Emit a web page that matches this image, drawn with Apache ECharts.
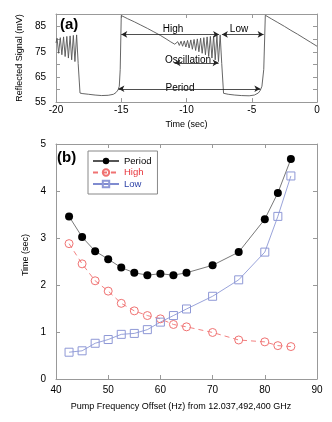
<!DOCTYPE html>
<html>
<head>
<meta charset="utf-8">
<script src="https://cdn.jsdelivr.net/npm/echarts@6/dist/echarts.min.js"></script>
<style>
  html, body { margin: 0; padding: 0; background: #fff; }
  #chartA { width: 332px; height: 134px; }
  #chartB { width: 332px; height: 288px; }
</style>
</head>
<body>
<div id="chartA"></div>
<div id="chartB"></div>
<script>
// (a) 反射信号波形：时间(s) 与 电压(mV)
var sigTime = [-20.00, -19.92, -19.80, -19.67, -19.55, -19.42, -19.30, -19.17, -19.05, -18.92, -18.80, -18.67, -18.55, -18.42, -18.30, -18.16,
    -18.00, -17.50, -17.00, -16.50, -16.00, -15.60, -15.40, -15.25, -15.15, -15.08, -15.00,
    -14.50, -14.00, -13.50, -13.00, -12.50, -12.00, -11.50, -11.20, -10.90,
    -10.67, -10.55, -10.42, -10.30, -10.17, -10.05, -9.92, -9.80, -9.67, -9.55, -9.42, -9.30, -9.17, -9.05,
    -8.92, -8.80, -8.67, -8.55, -8.42, -8.30, -8.17, -8.05, -7.92, -7.80, -7.67, -7.55, -7.42, -7.30, -7.16,
    -6.80, -6.30, -5.80, -5.20, -4.80, -4.50, -4.35, -4.22, -4.08, -3.96,
    -3.50, -3.00, -2.50, -2.00, -1.50, -1.00, -0.50, 0.00];
var sigMv = [78.5, 80.4, 74.4, 80.6, 73.8, 80.9, 73.1, 81.1, 72.5, 81.3, 71.8, 81.5, 71.1, 81.7, 70.3, 58.6,
    58.4, 58.1, 57.8, 57.6, 57.7, 58.1, 58.8, 59.8, 61.3, 68.0, 89.4,
    88.1, 86.9, 85.6, 84.3, 82.9, 81.5, 79.9, 78.9, 78.0,
    79.0, 77.5, 79.2, 77.2, 79.3, 76.9, 79.5, 76.5, 79.7, 76.0, 79.9, 75.5, 80.1, 75.0,
    80.4, 74.4, 80.6, 73.8, 80.9, 73.1, 81.1, 72.5, 81.3, 71.8, 81.5, 71.1, 81.7, 70.3, 58.5,
    58.1, 57.8, 57.6, 57.5, 57.8, 58.6, 59.6, 61.3, 68.0, 89.5,
    88.1, 86.6, 85.1, 83.5, 82.0, 80.4, 78.8, 77.2];

// (b) 泵浦频率偏移(Hz) 与 各段时间(s)
var freq = [42.5, 45, 47.5, 50, 52.5, 55, 57.5, 60, 62.5, 65, 70, 75, 80, 82.5, 85];
var periodSec = [3.46, 3.02, 2.72, 2.55, 2.37, 2.26, 2.21, 2.24, 2.21, 2.26, 2.42, 2.70, 3.40, 3.96, 4.68];
var highSec = [2.88, 2.45, 2.09, 1.87, 1.61, 1.45, 1.35, 1.28, 1.16, 1.11, 0.99, 0.83, 0.79, 0.71, 0.69];
var lowSec = [0.57, 0.60, 0.76, 0.84, 0.95, 0.97, 1.05, 1.21, 1.35, 1.49, 1.76, 2.11, 2.70, 3.46, 4.32];

// 箭头标注：[起点时间, 终点时间, 电压]
var arrowHigh = [-15.0, -7.5, 81.9];
var arrowLow = [-7.29, -4.09, 81.9];
var arrowOsc = [-10.92, -7.54, 70.6];
var arrowPeriod = [-15.22, -4.34, 60.3];

var FONT = 'Liberation Sans, Arial, sans-serif';

function zip(a, b) {
    var out = [];
    for (var i = 0; i < a.length; i++) { out.push([a[i], b[i]]); }
    return out;
}
function arrow(a) {
    return [{coord: [a[0], a[2]]}, {coord: [a[1], a[2]]}];
}
// 边框 + 内向刻度
function frameAxis(extra) {
    var base = {
        axisLine: {show: true, onZero: false, lineStyle: {color: '#999', width: 1}},
        axisTick: {show: true, inside: true, length: 4, lineStyle: {color: '#999'}},
        splitLine: {show: false},
        axisLabel: {show: false}
    };
    for (var k in extra) { base[k] = extra[k]; }
    return base;
}
var nameStyle = {color: '#000', fontFamily: FONT, fontSize: 9};
function txt(x, y, s, font, align) {
    return {type: 'text', x: x, y: y, style: {text: s, font: font, fill: '#000', align: align, verticalAlign: 'middle'}};
}

// 图(a)
var chartA = echarts.init(document.getElementById('chartA'));
chartA.setOption({
    animation: false,
    backgroundColor: '#fff',
    grid: {left: 56, right: 15, top: 14, height: 94},
    xAxis: [
        frameAxis({type: 'value', min: -20, max: 0, interval: 5, position: 'bottom',
            axisLabel: {show: true, margin: 3, color: '#000', fontFamily: FONT, fontSize: 10},
            name: 'Time (sec)', nameLocation: 'middle', nameGap: 15, nameTextStyle: nameStyle}),
        frameAxis({type: 'value', min: -20, max: 0, interval: 5, position: 'top'})
    ],
    yAxis: [
        frameAxis({type: 'value', min: 55, max: 90, interval: 5, position: 'left',
            axisLabel: {show: true, margin: 10, color: '#000', fontFamily: FONT, fontSize: 10,
                formatter: function (v) { return ((v - 55) % 10 === 0 && v < 90) ? String(v) : ''; }},
            name: 'Reflected Signal (mV)', nameLocation: 'middle', nameGap: 27, nameTextStyle: nameStyle}),
        frameAxis({type: 'value', min: 55, max: 90, interval: 5, position: 'right'})
    ],
    graphic: [
        txt(60, 25, '(a)', 'bold 15px ' + FONT, 'left'),
        txt(173, 29, 'High', '10px ' + FONT, 'center'),
        txt(239, 29, 'Low', '10px ' + FONT, 'center'),
        txt(188, 60, 'Oscillation', '10px ' + FONT, 'center'),
        txt(180, 88, 'Period', '10px ' + FONT, 'center')
    ],
    series: [{
        name: 'signal',
        type: 'line',
        data: zip(sigTime, sigMv),
        showSymbol: false,
        symbol: 'none',
        lineStyle: {color: '#555', width: 0.9},
        markLine: {
            silent: true,
            symbol: ['arrow', 'arrow'],
            symbolSize: [5, 6],
            label: {show: false},
            lineStyle: {color: '#222', width: 0.8, type: 'solid'},
            data: [arrow(arrowHigh), arrow(arrowLow), arrow(arrowOsc), arrow(arrowPeriod)]
        }
    }]
});

// 图(b)
var chartB = echarts.init(document.getElementById('chartB'));
chartB.setOption({
    animation: false,
    backgroundColor: '#fff',
    grid: {left: 56, right: 15, top: 10, height: 235},
    xAxis: [
        frameAxis({type: 'value', min: 40, max: 90, interval: 10, position: 'bottom',
            axisLabel: {show: true, margin: 6, color: '#000', fontFamily: FONT, fontSize: 10},
            name: 'Pump Frequency Offset (Hz) from 12.037,492,400 GHz', nameLocation: 'middle', nameGap: 23,
            nameTextStyle: {color: '#000', fontFamily: FONT, fontSize: 9, padding: [0, 11, 0, 0]}}),
        frameAxis({type: 'value', min: 40, max: 90, interval: 10, position: 'top'})
    ],
    yAxis: [
        frameAxis({type: 'value', min: 0, max: 5, interval: 1, position: 'left',
            axisLabel: {show: true, margin: 10, color: '#000', fontFamily: FONT, fontSize: 10},
            name: 'Time (sec)', nameLocation: 'middle', nameGap: 26,
            nameTextStyle: {color: '#000', fontFamily: FONT, fontSize: 9, padding: [0, 0, 0, 13]}}),
        frameAxis({type: 'value', min: 0, max: 5, interval: 1, position: 'right'})
    ],
    legend: {
        orient: 'vertical',
        left: 88,
        top: 17,
        backgroundColor: '#fff',
        borderColor: '#888',
        borderWidth: 1,
        padding: [5, 6, 5, 4],
        itemWidth: 26,
        itemHeight: 8,
        itemGap: 1.5,
        textStyle: {fontFamily: FONT, fontSize: 9.5, lineHeight: 8},
        data: [
            {name: 'Period', textStyle: {color: '#000'}},
            {name: 'High', textStyle: {color: '#e8343a'}},
            {name: 'Low', textStyle: {color: '#2f44a8'}}
        ]
    },
    graphic: [txt(57, 24, '(b)', 'bold 15px ' + FONT, 'left')],
    series: [
        {
            name: 'Period',
            type: 'line',
            data: zip(freq, periodSec),
            symbol: 'circle',
            symbolSize: 8,
            itemStyle: {color: '#000'},
            lineStyle: {color: '#555', width: 0.8}
        },
        {
            name: 'High',
            type: 'line',
            data: zip(freq, highSec),
            symbol: 'circle',
            symbolSize: 8,
            itemStyle: {color: 'rgba(255,255,255,0)', borderColor: '#f07272', borderWidth: 1},
            lineStyle: {color: '#f07272', width: 0.9, type: [5, 4]}
        },
        {
            name: 'Low',
            type: 'line',
            data: zip(freq, lowSec),
            symbol: 'rect',
            symbolSize: 8,
            itemStyle: {color: 'rgba(255,255,255,0)', borderColor: '#8e98d6', borderWidth: 1},
            lineStyle: {color: '#7f8bd0', width: 0.8}
        }
    ]
});
</script>
</body>
</html>
